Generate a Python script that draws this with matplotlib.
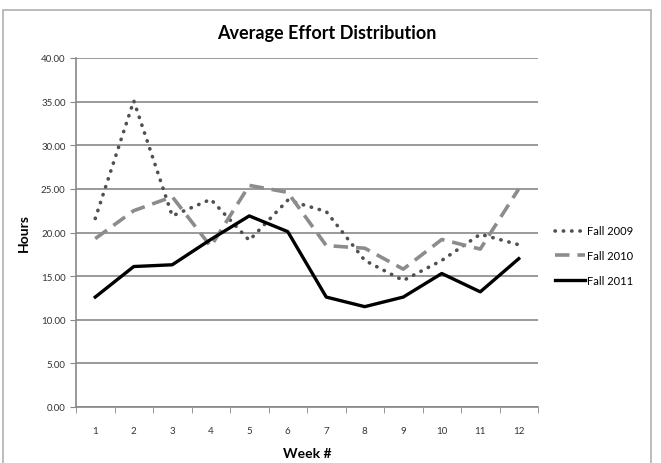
import numpy as np
import matplotlib.pyplot as plt
from matplotlib.patches import Rectangle

# data
weeks = np.arange(1, 13)
fall_2009 = [21.6, 35.1, 21.9, 23.8, 19.1, 23.7, 22.4, 16.8, 14.5, 16.8, 19.8, 18.6]
fall_2010 = [19.3, 22.5, 24.1, 18.4, 25.4, 24.6, 18.5, 18.2, 15.8, 19.2, 18.1, 25.0]
fall_2011 = [12.6, 16.1, 16.3, 19.2, 21.9, 20.1, 12.6, 11.5, 12.6, 15.3, 13.2, 17.0]
yticks = np.arange(0, 41, 5)

plt.rcParams['font.family'] = ['Lato', 'DejaVu Sans']

fig = plt.figure(figsize=(6.61, 4.64), dpi=100)
# outer chart border (bottom edge falls outside the picture)
fig.patches.append(Rectangle((3 / 661, -0.05), 648 / 661, 1.05 - 11 / 464,
                             transform=fig.transFigure, fill=False,
                             edgecolor='#b0b0b0', linewidth=1.2))

ax = fig.add_axes([76 / 661, 1 - 408 / 464, 462 / 661, 349 / 464])

ax.plot(weeks, fall_2009, linestyle=(0, (0.1, 2.2)), dash_capstyle='round',
        color='#505050', linewidth=2.6, label='Fall 2009')
ax.plot(weeks, fall_2010, linestyle=(0, (4, 2.2)), color='#8c8c8c',
        linewidth=2.6, label='Fall 2010')
ax.plot(weeks, fall_2011, linestyle='-', color='black', linewidth=2.4,
        label='Fall 2011')

ax.set_xlim(0.5, 12.5)
ax.set_ylim(0, 40)
ax.set_yticks(yticks)
ax.set_yticklabels(['%.2f' % v for v in yticks])
ax.set_xticks(weeks)
ax.set_xticks(np.arange(0.5, 13, 1), minor=True)
ax.tick_params(axis='x', which='major', length=0, labelsize=7, pad=14,
               colors='#333333')
ax.tick_params(axis='x', which='minor', length=4, color='#888888')
ax.tick_params(axis='y', length=4, color='#888888', labelsize=7,
               colors='#333333')
ax.yaxis.grid(True, color='#9a9a9a', linewidth=1.4)
ax.set_axisbelow(True)
for s in ['top', 'right']:
    ax.spines[s].set_visible(False)
for s in ['left', 'bottom']:
    ax.spines[s].set_color('#888888')
    ax.spines[s].set_linewidth(1.2)

# title is centred over the whole chart area, not the plot area
fig.text(327 / 661, 1 - 33 / 464, 'Average Effort Distribution', fontsize=13,
         fontweight='bold', ha='center', va='center')
ax.set_xlabel('Week #', fontsize=10, fontweight='bold', labelpad=8)
ax.set_ylabel('Hours', fontsize=10, fontweight='bold', labelpad=8)

ax.legend(loc='center left', bbox_to_anchor=(1.037, 0.433), frameon=False,
          fontsize=8, handlelength=2.7, handletextpad=0.15,
          labelspacing=1.25, borderpad=0, borderaxespad=0)

plt.savefig('out.png', dpi=100)
